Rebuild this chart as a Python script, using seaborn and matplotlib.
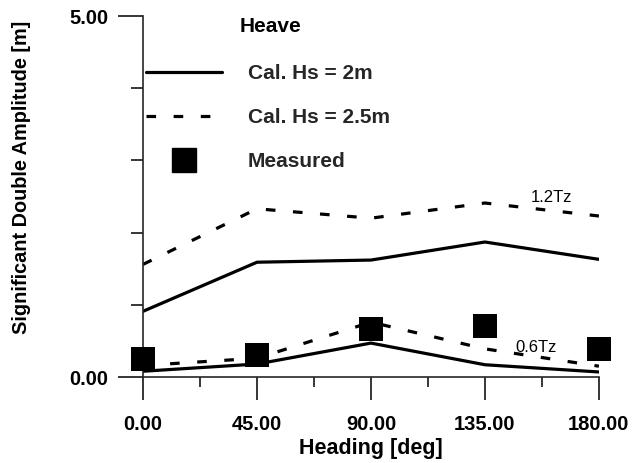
import matplotlib
matplotlib.use("Agg")
import matplotlib.pyplot as plt
import seaborn as sns
import pandas as pd
from matplotlib.lines import Line2D
from matplotlib.ticker import FixedLocator, NullFormatter

sns.set_theme(style="ticks")
plt.rcParams['font.family'] = ['Liberation Sans', 'DejaVu Sans']

heading = [0, 45, 90, 135, 180]
hs2_06tz = [0.08, 0.18, 0.47, 0.17, 0.07]
hs25_06tz = [0.16, 0.26, 0.76, 0.39, 0.15]
hs2_12tz = [0.91, 1.59, 1.62, 1.87, 1.63]
hs25_12tz = [1.56, 2.33, 2.20, 2.41, 2.23]
measured = [0.25, 0.30, 0.66, 0.71, 0.39]

fig = plt.figure(figsize=(6.35, 4.63), dpi=100)
ax = fig.add_axes([0.2252, 0.1857, 0.718, 0.7797])

lw = 2.3
dash = (3, 5.5)
sns.lineplot(x=heading, y=hs2_06tz, ax=ax, color='black', lw=lw, zorder=2)
sns.lineplot(x=heading, y=hs2_12tz, ax=ax, color='black', lw=lw, zorder=2)
sns.lineplot(x=heading, y=hs25_06tz, ax=ax, color='black', lw=lw, zorder=2)
ax.lines[-1].set_dashes(dash)
sns.lineplot(x=heading, y=hs25_12tz, ax=ax, color='black', lw=lw, zorder=2)
ax.lines[-1].set_dashes(dash)
sns.scatterplot(x=heading, y=measured, ax=ax, color='black', marker='s', s=17.5**2,
                edgecolor='black', linewidth=0, zorder=3, clip_on=False)

ax.set_xlim(0, 180)
ax.set_ylim(0, 5)
sns.despine(ax=ax)
for s in ['left', 'bottom']:
    ax.spines[s].set_linewidth(1.2)

ax.xaxis.set_major_locator(FixedLocator([0, 45, 90, 135, 180]))
ax.xaxis.set_minor_locator(FixedLocator([22.5, 67.5, 112.5, 157.5]))
ax.yaxis.set_major_locator(FixedLocator([0, 5]))
ax.yaxis.set_minor_locator(FixedLocator([1, 2, 3, 4]))
ax.set_xticklabels(['0.00', '45.00', '90.00', '135.00', '180.00'])
ax.set_yticklabels(['0.00', '5.00'])
ax.tick_params(axis='x', which='major', length=16.5, width=1.1, pad=11,
               labelsize=14.5, direction='out', color='black', labelcolor='black')
ax.tick_params(axis='x', which='minor', length=7, width=1.1, direction='out', color='black')
ax.tick_params(axis='y', which='major', length=18, width=1.1, pad=7,
               labelsize=14.5, direction='out', color='black', labelcolor='black')
ax.tick_params(axis='y', which='minor', length=8.5, width=1.1, direction='out', color='black')
for lab in ax.get_xticklabels() + ax.get_yticklabels():
    lab.set_fontweight('bold')

ax.set_xlabel('Heading [deg]', fontsize=15.5, fontweight='bold', labelpad=3, color='black')
ax.set_ylabel('Significant Double Amplitude [m]', fontsize=14.3, fontweight='bold', color='black')
ax.yaxis.set_label_coords(-0.245, 0.554)

ax.text(161.4, 2.49, '1.2Tz', fontsize=12, ha='center', va='center', color='black')
ax.text(155.1, 0.41, '0.6Tz', fontsize=12, ha='center', va='center', color='black')

ax.text(0.2127, 0.972, 'Heave', transform=ax.transAxes, fontsize=15, fontweight='bold',
        ha='left', va='center', color='black')

handles = [Line2D([], [], color='black', lw=lw),
           Line2D([], [], color='black', lw=lw, dashes=dash),
           Line2D([], [], color='black', lw=0, marker='s', markersize=17.5)]
labels = ['Cal. Hs = 2m', 'Cal. Hs = 2.5m', 'Measured']
leg = ax.legend(handles, labels, loc='upper left', bbox_to_anchor=(0.0066, 0.867),
                frameon=False, borderpad=0, borderaxespad=0, handlelength=3.65,
                handletextpad=1.25, labelspacing=1.2, prop={'size': 15, 'weight': 'bold'})

fig.savefig('out.png', dpi=100, facecolor='white')
